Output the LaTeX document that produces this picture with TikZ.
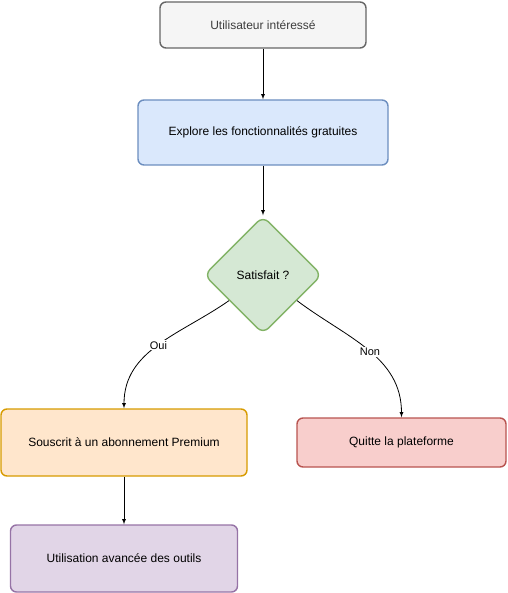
\documentclass[tikz,border=0pt]{standalone}
\usepackage{fontspec}
\setmainfont{Liberation Sans}
\usepackage{tikz}
\usetikzlibrary{shapes.geometric,arrows}
\usetikzlibrary{positioning}
\definecolor{grayfill}{HTML}{F5F5F5}\definecolor{graydraw}{HTML}{666666}
\definecolor{bluefill}{HTML}{DAE8FC}\definecolor{bluedraw}{HTML}{6C8EBF}
\definecolor{greenfill}{HTML}{D5E8D4}\definecolor{greendraw}{HTML}{82B366}
\definecolor{orangefill}{HTML}{FFE6CC}\definecolor{orangedraw}{HTML}{D79B00}
\definecolor{redfill}{HTML}{F8CECC}\definecolor{reddraw}{HTML}{B85450}
\definecolor{purplefill}{HTML}{E1D5E7}\definecolor{purpledraw}{HTML}{9673A6}
\tikzset{
  box/.style={rectangle, rounded corners=6pt, line width=1.4pt, font=\fontsize{12}{14}\selectfont, inner sep=0pt},
  choice/.style={diamond, rounded corners=8pt, line width=1.4pt, font=\fontsize{12}{14}\selectfont,
    minimum width=118pt, minimum height=118pt, inner sep=0pt, draw=greendraw, fill=greenfill},
  lbl/.style={fill=white, inner sep=1pt, font=\fontsize{11}{13}\selectfont}
}
\begin{document}
\begin{tikzpicture}[> = latex, x=1pt, y=1pt, on grid, line width=0.8pt]
        \useasboundingbox (0,0) rectangle (507,-593);
        \node[box, draw=graydraw, fill=grayfill, minimum width=206pt, minimum height=46pt, text=graydraw!60!black]
                               (user)    at (263,-25)                          {Utilisateur intéressé};
        \node[box, draw=bluedraw, fill=bluefill, minimum width=250pt, minimum height=65pt]
                               (explore) [below=107.5pt of user]               {Explore les fonctionnalités gratuites};
        \node[choice]          (satisf)  [below=142.5pt of explore]            {Satisfait ?};
        \node[box, draw=orangedraw, fill=orangefill, minimum width=246pt, minimum height=67pt]
                               (premium) [below left=167.5pt and 139pt of satisf] {Souscrit à un abonnement Premium};
        \node[box, draw=reddraw, fill=redfill, minimum width=209pt, minimum height=49pt]
                               (quit)    [below right=167.5pt and 138.5pt of satisf] {Quitte la plateforme};
        \node[box, draw=purpledraw, fill=purplefill, minimum width=227pt, minimum height=67pt]
                               (usage)   [below=116pt of premium]              {Utilisation avancée des outils};

        \path[->] (user)     edge                      (explore)
                  (explore)  edge                      (satisf)
                  (satisf.-143) edge [out=-145, in=90] node [lbl, pos=0.5]  {Oui} (premium)
                  (satisf.-37)  edge [out=-37, in=90]  node [lbl, pos=0.52] {Non} (quit)
                  (premium)  edge                      (usage);
      \end{tikzpicture}
\end{document}
